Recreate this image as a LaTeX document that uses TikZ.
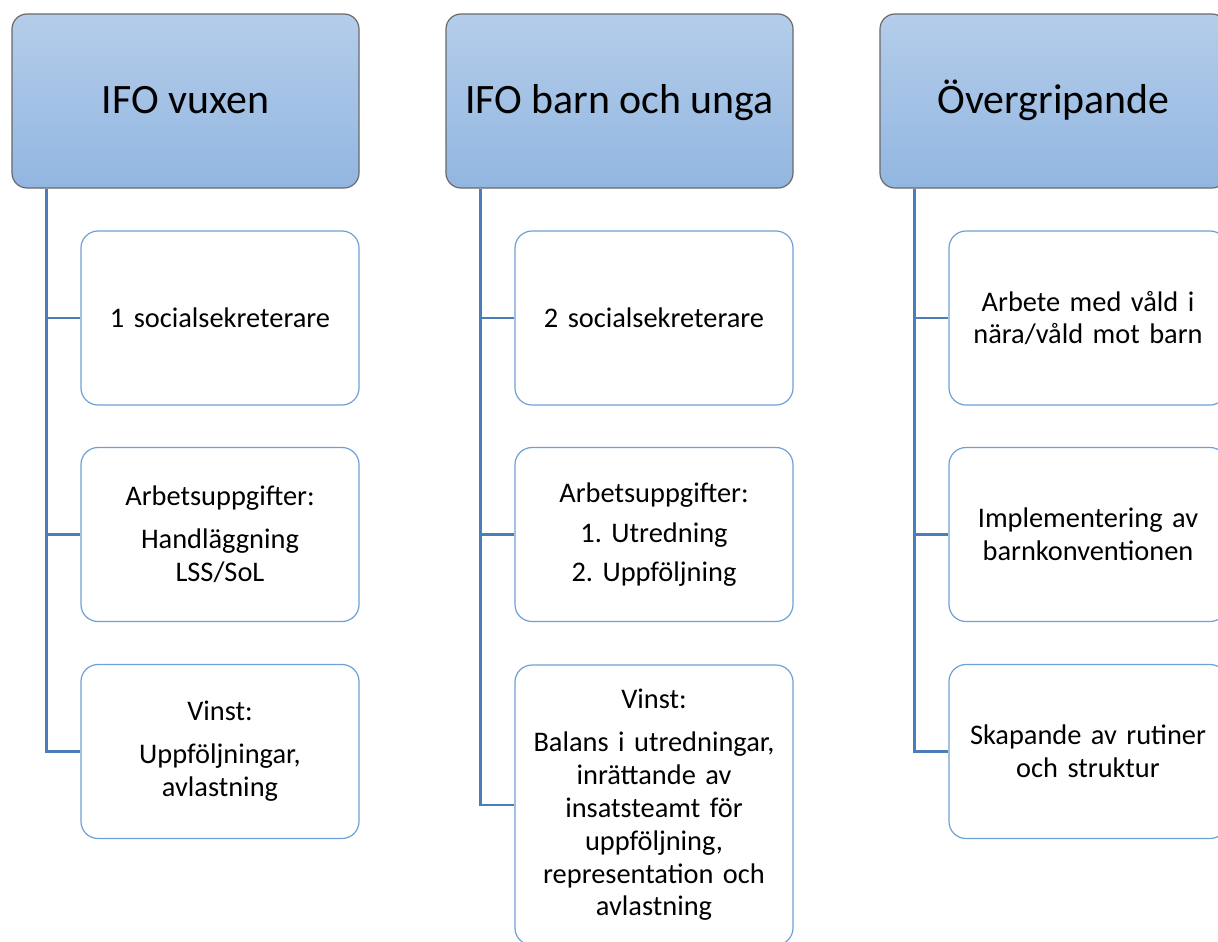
\documentclass[tikz,border=0pt]{standalone}
\usepackage{fontspec}
\setmainfont{Carlito}
\usetikzlibrary{positioning}
\definecolor{hdtop}{RGB}{180,205,234}
\definecolor{hdbot}{RGB}{146,182,225}
\definecolor{hdline}{RGB}{105,105,105}
\definecolor{linkblue}{RGB}{74,126,187}
\definecolor{boxline}{RGB}{110,160,215}
\tikzset{
  head/.style={draw=hdline,line width=1.2bp,rounded corners=15bp,top color=hdtop,bottom color=hdbot,
    minimum width=347bp,minimum height=174bp,inner sep=0pt,text height=28bp,text depth=4bp,
    font=\fontsize{42}{50}\selectfont},
  item/.style={draw=boxline,line width=1.2bp,fill=white,rounded corners=17bp,minimum width=278bp,
    minimum height=174bp,inner sep=0pt,text width=274bp,align=center,font=\fontsize{28.5}{33}\selectfont},
  link/.style={draw=linkblue,line width=2.6bp}
}

\begin{document}
\frenchspacing
\begin{tikzpicture}[x=1bp,y=-1bp]
\path[use as bounding box,clip] (0,0) rectangle (1218,942);
% --- headers
\node[head] (h1) at (185.5,101) {IFO vuxen};
\node[head] (h2) at (619.5,101) {IFO barn och unga};
\node[head] (h3) at (1053.5,101) {Övergripande};
% --- IFO vuxen
\node[item] (c11) at (220,318) {1 socialsekreterare};
\node[item] (c12) at (220,534.5) {Arbetsuppgifter:\\[10bp] Handläggning\\ LSS/SoL};
\node[item] (c13) at (220,751.5) {Vinst:\\[10bp] Uppföljningar,\\ avlastning};
% --- IFO barn och unga
\node[item] (c21) at (654,318) {2 socialsekreterare};
\node[item] (c22) at (654,534.5) {Arbetsuppgifter:\\[7bp] 1. Utredning\\[6bp] 2. Uppföljning};
\node[item,minimum height=280bp] (c23) at (654,805) {Vinst:\\[10bp] Balans i utredningar,\\ inrättande av\\ insatsteamt för\\ uppföljning,\\ representation och\\ avlastning};
% --- Övergripande
\node[item] (c31) at (1088,318) {Arbete med våld i\\ nära/våld mot barn};
\node[item] (c32) at (1088,534.5) {Implementering av\\ barnkonventionen};
\node[item] (c33) at (1088,751.5) {Skapande av rutiner\\ och struktur};
% --- connectors
\foreach \col in {1,2,3}
  \foreach \row in {1,2,3}
    \draw[link] ([xshift=35bp]h\col.south west) |- (c\col\row.west);
\end{tikzpicture}
\end{document}
